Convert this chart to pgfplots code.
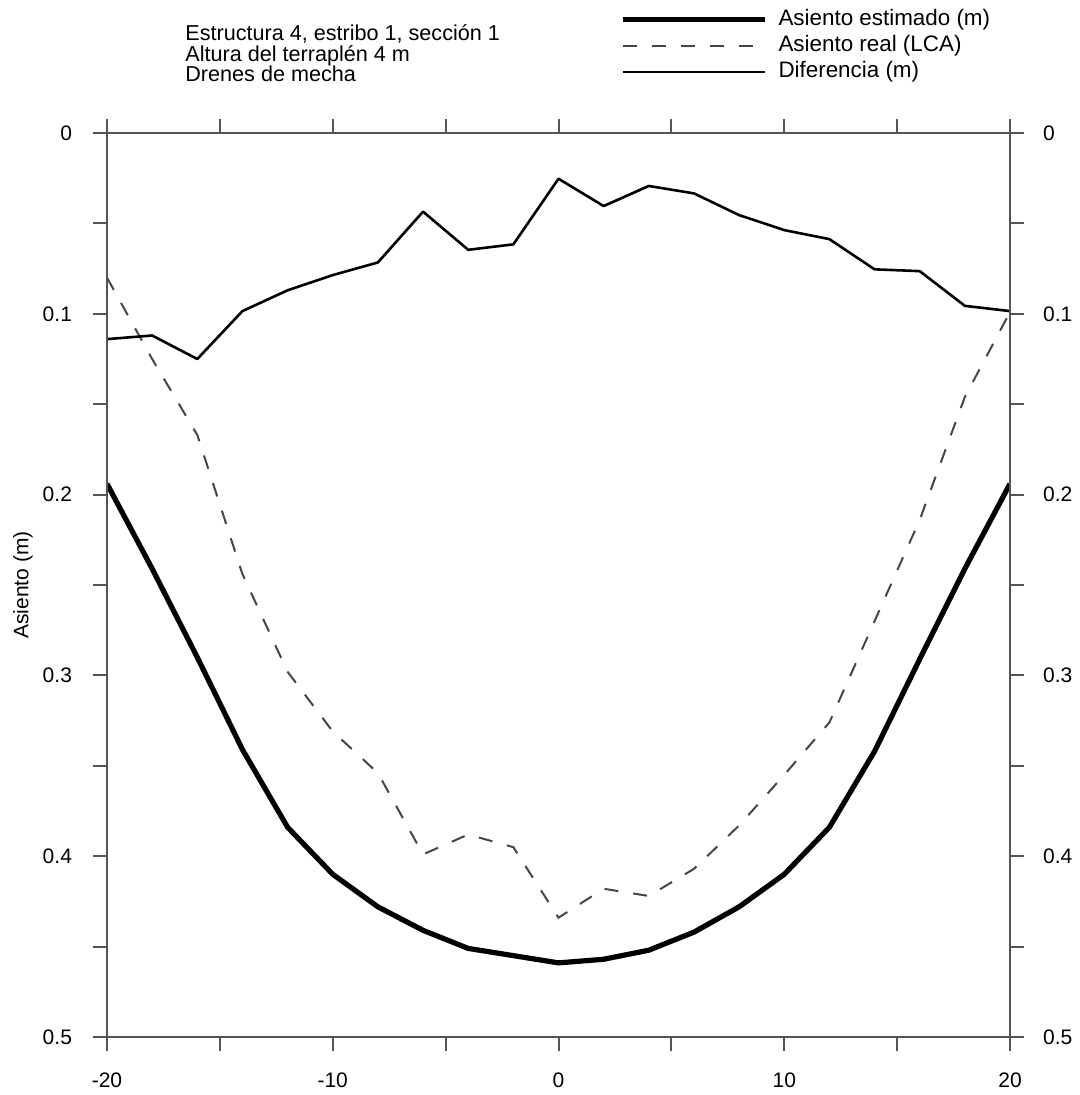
\documentclass[border=0pt]{standalone}
\usepackage{fontspec}
\setmainfont{Liberation Sans}
\usepackage{pgfplots}
\pgfplotsset{compat=1.18}

\definecolor{axgray}{RGB}{85,85,85}
\definecolor{dashgray}{RGB}{70,70,70}

% Asiento estimado (m)
\pgfplotstableread{
x y
-20 0.194
-18 0.241
-16 0.290
-14 0.341
-12 0.384
-10 0.410
-8 0.428
-6 0.441
-4 0.451
-2 0.455
0 0.459
2 0.457
4 0.452
6 0.442
8 0.428
10 0.410
12 0.384
14 0.342
16 0.291
18 0.241
20 0.194
}\estimado

% Asiento real (LCA)
\pgfplotstableread{
x y
-20 0.080
-18 0.125
-16 0.167
-14 0.244
-12 0.298
-10 0.331
-8 0.354
-6 0.399
-4 0.388
-2 0.395
0 0.434
2 0.418
4 0.422
6 0.407
8 0.383
10 0.355
12 0.326
14 0.270
16 0.214
18 0.146
20 0.099
}\real

% Diferencia (m)
\pgfplotstableread{
x y
-20 0.114
-18 0.112
-16 0.125
-14 0.0985
-12 0.087
-10 0.0786
-8 0.0716
-6 0.0435
-4 0.0646
-2 0.0616
0 0.0253
2 0.0404
4 0.0293
6 0.0334
8 0.0454
10 0.0537
12 0.0587
14 0.0754
16 0.0764
18 0.0956
20 0.0985
}\diferencia

\pgfplotsset{
  base/.style={
    scale only axis, width=451.5pt, height=452pt,
    xmin=-20, xmax=20, ymin=0, ymax=0.5, y dir=reverse,
    xtick={-20,-10,0,10,20}, minor xtick={-15,-5,5,15},
    ytick={0,0.1,0.2,0.3,0.4,0.5}, minor ytick={0.05,0.15,0.25,0.35,0.45},
    tick align=outside, major tick length=7pt, minor tick length=7pt,
    every tick/.style={axgray, line width=1pt},
    axis line style={axgray, line width=1pt},
    /pgf/number format/assume math mode=true,
    /pgf/number format/fixed,
    tick label style={font=\fontsize{10.5}{12}\selectfont},
  }
}

\begin{document}
\begin{tikzpicture}
\begin{axis}[base,
    xtick pos=both, ytick pos=both,
    xticklabel pos=bottom, yticklabel pos=left,
    xticklabel style={yshift=-7.5pt},
    yticklabel style={xshift=-7pt},
    ylabel={Asiento (m)},
    ylabel style={font=\fontsize{10.5}{12}\selectfont,
      at={(axis description cs:-0.093,0.5)}, anchor=center},
    legend style={draw=none, fill=none, inner sep=0pt,
      at={(axis description cs:0.568,1.1375)}, anchor=north west,
      font=\fontsize{11.2}{13}\selectfont, row sep=2.6pt,
      nodes={inner sep=0pt, text height=8pt, text depth=2.5pt},
      /tikz/every odd column/.append style={column sep=5.5pt}},
    legend cell align=left,
    legend image code/.code={\draw[#1] (0pt,0pt) -- (71pt,0pt);},
  ]
  \addplot[black, line width=2.6pt, line join=round] table[x=x,y=y] {\estimado};
  \addlegendentry{Asiento estimado (m)}
  \addplot[dashgray, line width=1pt, dash pattern=on 7pt off 7.5pt] table[x=x,y=y] {\real};
  \addlegendentry{Asiento real (LCA)}
  \addplot[black, line width=1.3pt, line join=round] table[x=x,y=y] {\diferencia};
  \addlegendentry{Diferencia (m)}
\end{axis}
\begin{axis}[base,
    axis x line=none, axis y line*=right,
    yticklabel pos=right,
    yticklabel style={xshift=6pt},
  ]
\end{axis}
% axis lines reaching past the corners
\draw[axgray, line width=1pt] ([xshift=-7pt]current axis.south west) -- ([xshift=7pt]current axis.south east);
\draw[axgray, line width=1pt] ([xshift=-7pt]current axis.north west) -- ([xshift=7pt]current axis.north east);
\draw[axgray, line width=1pt] ([yshift=-7pt]current axis.south west) -- ([yshift=7pt]current axis.north west);
\draw[axgray, line width=1pt] ([yshift=-7pt]current axis.south east) -- ([yshift=7pt]current axis.north east);
\node[anchor=north west, inner sep=0pt, align=left, font=\fontsize{10.8}{10.4}\selectfont]
  at ([shift={(39pt,54.5pt)}]current axis.north west)
  {Estructura 4, estribo 1, sección 1\\Altura del terraplén 4 m\\Drenes de mecha};
\pgfresetboundingbox
\path[use as bounding box] ([shift={(-53.5pt,-29pt)}]current axis.south west)
  rectangle ([shift={(34.5pt,66.5pt)}]current axis.north east);
\end{tikzpicture}
\end{document}
